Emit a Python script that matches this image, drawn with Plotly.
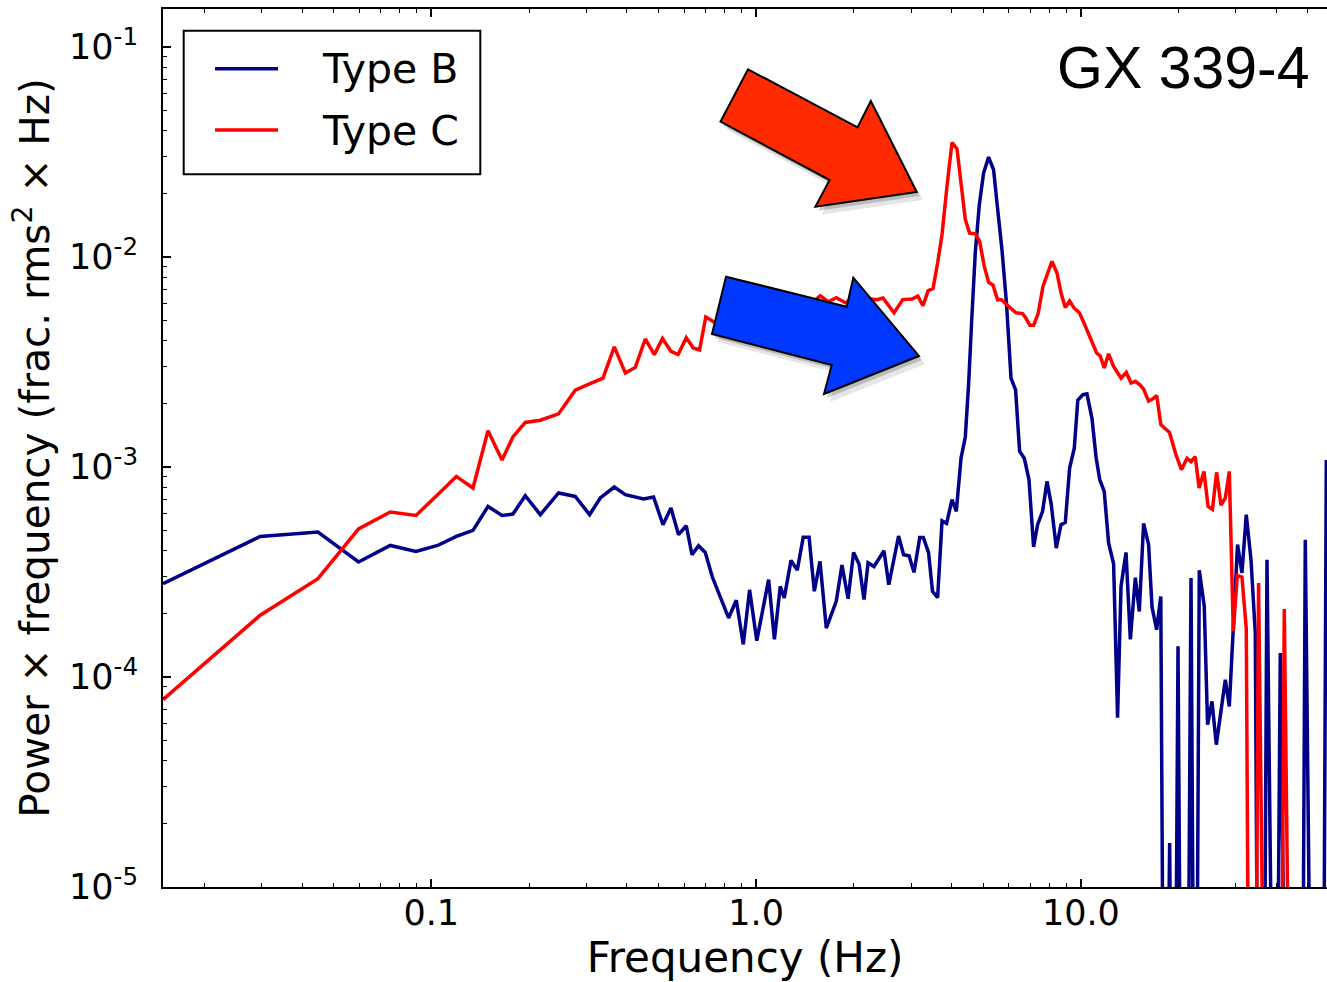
import plotly.graph_objects as go

# ---------------- data ----------------
BELOW = 1e-7  # points whose power drops below the plotted floor (line falls off the axis)

freq_b = [0.01493, 0.02974, 0.04478, 0.05972, 0.07475, 0.08973, 0.1046, 0.1194, 0.1344, 0.1495,
          0.1651, 0.1784, 0.1947, 0.2166, 0.2465, 0.2775, 0.3072, 0.3314, 0.3660, 0.3957,
          0.4504, 0.4835, 0.5168, 0.5470, 0.5772, 0.6097, 0.6348, 0.6652, 0.6976, 0.7330,
          0.8229, 0.8690, 0.9133, 0.9550, 1.005, 1.093, 1.139, 1.187, 1.221, 1.281,
          1.339, 1.397, 1.456, 1.511, 1.573, 1.645, 1.766, 1.838, 1.920, 1.996,
          2.076, 2.149, 2.212, 2.307, 2.476, 2.562, 2.746, 2.845, 2.958, 3.063,
          3.191, 3.272, 3.397, 3.492, 3.622, 3.737, 3.860, 4.011, 4.135, 4.275,
          4.407, 4.511, 4.621, 4.730, 4.866, 5.017, 5.198, 5.386, 5.517, 5.716,
          5.905, 6.093, 6.295, 6.476, 6.695, 6.922, 7.152, 7.357, 7.622, 7.864,
          8.108, 8.400, 8.684, 8.954, 9.231, 9.544, 9.784, 10.14, 10.44, 10.82,
          11.14, 11.43, 11.80, 12.17, 12.61, 12.97, 13.29, 13.77, 14.20, 14.71,
          15.13, 15.60, 16.16, 16.56, 17.11, 17.62, 18.13, 18.76, 19.32, 19.91,
          20.52, 21.11, 21.83, 22.50, 23.15, 23.98, 24.55, 25.33, 26.12, 27.00,
          27.84, 28.64, 29.52, 30.36, 31.33, 32.30, 33.40, 34.43, 35.42, 36.31,
          37.41, 38.57, 39.68, 41.11, 42.29, 43.50, 44.76, 46.20, 47.71, 49.08,
          50.49, 52.00, 53.60, 55.37, 56.97]

power_b = [2.78e-4, 4.67e-4, 4.90e-4, 3.53e-4, 4.23e-4, 3.96e-4, 4.23e-4, 4.67e-4, 4.99e-4, 6.49e-4,
           5.88e-4, 5.97e-4, 7.30e-4, 5.93e-4, 7.52e-4, 7.24e-4, 5.93e-4, 7.12e-4, 8.03e-4, 7.38e-4,
           7.04e-4, 7.20e-4, 5.31e-4, 6.38e-4, 4.76e-4, 5.25e-4, 3.82e-4, 4.22e-4, 3.92e-4, 3.00e-4,
           1.91e-4, 2.32e-4, 1.43e-4, 2.60e-4, 1.49e-4, 2.91e-4, 1.51e-4, 2.70e-4, 2.38e-4, 3.59e-4,
           3.23e-4, 4.63e-4, 4.63e-4, 2.56e-4, 3.55e-4, 1.71e-4, 2.30e-4, 3.41e-4, 2.36e-4, 3.92e-4,
           3.44e-4, 2.34e-4, 3.50e-4, 3.36e-4, 3.99e-4, 2.75e-4, 4.69e-4, 3.82e-4, 3.78e-4, 3.15e-4,
           4.62e-4, 4.62e-4, 3.91e-4, 2.56e-4, 2.39e-4, 5.54e-4, 5.39e-4, 6.99e-4, 6.15e-4, 1.10e-3,
           1.39e-3, 2.47e-3, 5.31e-3, 1.05e-2, 1.77e-2, 2.51e-2, 2.99e-2, 2.60e-2, 1.81e-2, 1.08e-2,
           5.93e-3, 2.65e-3, 2.33e-3, 1.19e-3, 1.10e-3, 8.70e-4, 4.16e-4, 5.31e-4, 6.15e-4, 8.54e-4,
           6.62e-4, 4.11e-4, 5.31e-4, 5.45e-4, 9.89e-4, 1.23e-3, 2.08e-3, 2.21e-3, 2.23e-3, 1.70e-3,
           1.11e-3, 8.70e-4, 7.65e-4, 4.35e-4, 3.46e-4, 6.40e-5, 2.70e-4, 3.92e-4, 1.51e-4, 2.97e-4,
           2.05e-4, 5.39e-4, 4.27e-4, 2.15e-4, 1.68e-4, 2.42e-4, BELOW, 1.62e-5, BELOW, 1.40e-4,
           BELOW, BELOW, 2.96e-4, BELOW, 3.22e-4, 2.17e-4, 5.93e-5, 7.65e-5, 4.76e-5, 7.12e-5,
           9.71e-5, 7.24e-5, 1.68e-4, 4.27e-4, 3.13e-4, 5.93e-4, 3.62e-4, 1.62e-4, BELOW, BELOW,
           3.62e-4, BELOW, BELOW, 1.30e-4, BELOW, BELOW, BELOW, BELOW, BELOW, 4.50e-4,
           BELOW, BELOW, BELOW, BELOW, 1.08e-3]

freq_c = [0.01493, 0.02974, 0.04478, 0.05972, 0.07475, 0.08973, 0.1046, 0.1194, 0.1344, 0.1495,
          0.1651, 0.1784, 0.1947, 0.2166, 0.2465, 0.2775, 0.3072, 0.3378, 0.3660, 0.3960,
          0.4247, 0.4559, 0.4860, 0.5150, 0.5470, 0.5752, 0.6097, 0.6407, 0.6699, 0.7000,
          0.7358, 0.7707, 0.8096, 0.8507, 0.9003, 0.9462, 1.001, 1.060, 1.122, 1.187,
          1.256, 1.330, 1.407, 1.489, 1.577, 1.669, 1.766, 1.889, 1.996, 2.149,
          2.250, 2.356, 2.459, 2.659, 2.829, 3.020, 3.147, 3.265, 3.385, 3.507,
          3.622, 3.737, 3.870, 4.011, 4.155, 4.275, 4.407, 4.543, 4.730, 4.877,
          5.042, 5.198, 5.363, 5.540, 5.695, 5.969, 6.304, 6.609, 6.766, 6.970,
          7.152, 7.383, 7.643, 7.864, 8.147, 8.441, 8.690, 8.954, 9.231, 9.524,
          9.908, 10.26, 10.52, 10.82, 11.18, 11.47, 11.80, 12.17, 12.61, 13.29,
          13.80, 14.27, 14.71, 15.16, 15.60, 16.16, 16.65, 17.12, 17.63, 18.74,
          19.60, 20.40, 21.22, 21.83, 22.50, 23.12, 23.93, 24.64, 25.42, 26.17,
          27.00, 27.84, 28.64, 29.46, 30.30, 31.33, 32.30, 33.23, 34.19, 35.24,
          36.31, 37.41, 38.57, 39.68, 40.97, 42.29, 43.50, 44.76]

power_c = [7.80e-5, 1.97e-4, 2.94e-4, 5.07e-4, 6.10e-4, 5.88e-4, 7.38e-4, 9.02e-4, 7.94e-4, 1.49e-3,
           1.08e-3, 1.39e-3, 1.63e-3, 1.67e-3, 1.79e-3, 2.32e-3, 2.49e-3, 2.65e-3, 3.73e-3, 2.80e-3,
           2.98e-3, 4.07e-3, 3.43e-3, 4.09e-3, 3.55e-3, 3.43e-3, 4.13e-3, 3.69e-3, 3.61e-3, 5.18e-3,
           4.94e-3, 4.71e-3, 5.14e-3, 4.92e-3, 5.49e-3, 5.25e-3, 5.74e-3, 5.43e-3, 5.93e-3, 5.67e-3,
           6.26e-3, 5.86e-3, 6.40e-3, 6.06e-3, 6.54e-3, 6.12e-3, 6.40e-3, 6.04e-3, 6.50e-3, 6.10e-3,
           6.30e-3, 6.26e-3, 6.38e-3, 5.43e-3, 6.27e-3, 6.31e-3, 6.51e-3, 5.86e-3, 6.90e-3, 7.09e-3,
           9.36e-3, 1.28e-2, 2.17e-2, 3.51e-2, 3.27e-2, 2.17e-2, 1.51e-2, 1.30e-2, 1.29e-2, 1.19e-2,
           9.02e-3, 7.59e-3, 7.34e-3, 6.26e-3, 6.26e-3, 5.84e-3, 5.43e-3, 5.38e-3, 5.12e-3, 4.73e-3,
           4.73e-3, 5.37e-3, 7.24e-3, 8.19e-3, 9.53e-3, 8.39e-3, 6.74e-3, 5.75e-3, 6.18e-3, 5.72e-3,
           5.41e-3, 4.78e-3, 4.35e-3, 3.94e-3, 3.49e-3, 3.38e-3, 2.96e-3, 3.46e-3, 3.01e-3, 2.65e-3,
           2.82e-3, 2.51e-3, 2.56e-3, 2.47e-3, 2.35e-3, 2.06e-3, 2.11e-3, 2.19e-3, 1.59e-3, 1.46e-3,
           1.15e-3, 9.71e-4, 1.10e-3, 1.06e-3, 1.12e-3, 7.94e-4, 9.53e-4, 6.49e-4, 6.28e-4, 9.43e-4,
           6.58e-4, 7.12e-4, 9.53e-4, 1.65e-4, 3.04e-4, 2.99e-4, 1.70e-4, BELOW, BELOW, 2.80e-4,
           BELOW, BELOW, BELOW, BELOW, BELOW, 2.11e-4, BELOW, BELOW]

series_names = ["Type B", "Type C"]
x_tick_vals = [0.1, 1.0, 10.0]
x_tick_text = ["0.1", "1.0", "10.0"]
y_tick_vals = [1e-5, 1e-4, 1e-3, 1e-2, 1e-1]
y_tick_text = ["10<sup>-5</sup>", "10<sup>-4</sup>", "10<sup>-3</sup>", "10<sup>-2</sup>", "10<sup>-1</sup>"]
x_minor = [m * 10.0 ** e for e in range(-2, 2) for m in range(2, 10)]
y_minor = [m * 10.0 ** e for e in range(-5, -1) for m in range(2, 10)]

# ---------------- layout geometry ----------------
W, H = 1327, 982
ML, MR, MT, MB = 163, 0, 9, 95
PW, PH = W - ML - MR, H - MT - MB

BLUE = "#000088"
RED = "#FF0000"
FONT = "DejaVu Sans"
LW = 3.5


def px(x):
    return (x - ML) / PW


def py(y):
    return (H - MB - y) / PH


def poly(points, dx=0.0, dy=0.0):
    pts = [f"{px(x + dx):.5f},{py(y + dy):.5f}" for x, y in points]
    return "M " + " L ".join(pts) + " Z"


fig = go.Figure()
fig.add_trace(go.Scatter(x=freq_b, y=power_b, mode="lines", name=series_names[0],
                         line=dict(color=BLUE, width=LW), showlegend=False))
fig.add_trace(go.Scatter(x=freq_c, y=power_c, mode="lines", name=series_names[1],
                         line=dict(color=RED, width=LW), showlegend=False))

axis_common = dict(
    type="log", showgrid=False, zeroline=False,
    showline=True, linecolor="black", linewidth=2,
    ticks="inside", ticklen=8, tickwidth=1.5, tickcolor="black",
    tickfont=dict(family=FONT, size=35, color="black"),
)

fig.update_xaxes(
    **axis_common,
    range=[-1.826, -1.826 + PW / 324.8],
    tickvals=x_tick_vals, ticktext=x_tick_text,
    mirror="allticks",
    minor=dict(tickvals=x_minor, ticks="inside", ticklen=4, tickwidth=1, tickcolor="black", showgrid=False),
    ticklabelstandoff=-6,
    title=dict(text="Frequency (Hz)", font=dict(family=FONT, size=42, color="black"), standoff=10),
)
fig.update_yaxes(
    **axis_common,
    range=[-5, -5 + PH / 210.0],
    tickvals=y_tick_vals, ticktext=y_tick_text,
    mirror=False,
    minor=dict(tickvals=y_minor, ticks="inside", ticklen=4, tickwidth=1, tickcolor="black", showgrid=False),
    ticklabelstandoff=16,
    title=dict(text="Power × frequency (frac. rms<sup>2</sup> × Hz)",
               font=dict(family=FONT, size=40.5, color="black"), standoff=7),
)

# ---------------- decorations: arrows, legend box, label ----------------
red_arrow = [(748, 69.3), (857.6, 127.3), (870.8, 101), (916.7, 192), (815.4, 206.7), (829.6, 180), (720.5, 121.7)]
blue_arrow = [(726, 276.7), (846.7, 306.7), (853.3, 277.7), (919, 356), (824, 394), (831.7, 365), (712, 334)]

shapes = []
for arrow, fill in [(red_arrow, "#FF2A00"), (blue_arrow, "#0038FF")]:
    shapes.append(dict(type="path", xref="paper", yref="paper", path=poly(arrow, 6, 8),
                       fillcolor="rgba(0,0,0,0.10)", line=dict(width=0), layer="above"))
    shapes.append(dict(type="path", xref="paper", yref="paper", path=poly(arrow, 3, 4),
                       fillcolor="rgba(0,0,0,0.18)", line=dict(width=0), layer="above"))
    shapes.append(dict(type="path", xref="paper", yref="paper", path=poly(arrow),
                       fillcolor=fill, line=dict(color="black", width=2), layer="above"))

# legend box
shapes.append(dict(type="rect", xref="paper", yref="paper",
                   x0=px(183.7), x1=px(480.3), y0=py(174.3), y1=py(30.7),
                   fillcolor="white", line=dict(color="black", width=2), layer="above"))
legend_rows = [(68.7, BLUE), (130.0, RED)]
annotations = []
for name, (ly, col) in zip(series_names, legend_rows):
    shapes.append(dict(type="line", xref="paper", yref="paper",
                       x0=px(215), x1=px(278), y0=py(ly), y1=py(ly),
                       line=dict(color=col, width=LW), layer="above"))
    annotations.append(dict(text=name, xref="paper", yref="paper", x=px(320), y=py(ly + 0.5),
                            xanchor="left", yanchor="middle", showarrow=False,
                            font=dict(family=FONT, size=41, color="black")))

annotations.append(dict(text="GX 339-4", xref="paper", yref="paper", x=px(1312), y=py(67.5),
                        xanchor="right", yanchor="middle", showarrow=False,
                        font=dict(family="Liberation Sans", size=59, color="black")))

fig.update_layout(
    width=W, height=H,
    margin=dict(l=ML, r=MR, t=MT, b=MB, pad=0),
    paper_bgcolor="white", plot_bgcolor="white",
    font=dict(family=FONT, color="black"),
    shapes=shapes, annotations=annotations,
    showlegend=False,
)

fig.write_html("out.html")
